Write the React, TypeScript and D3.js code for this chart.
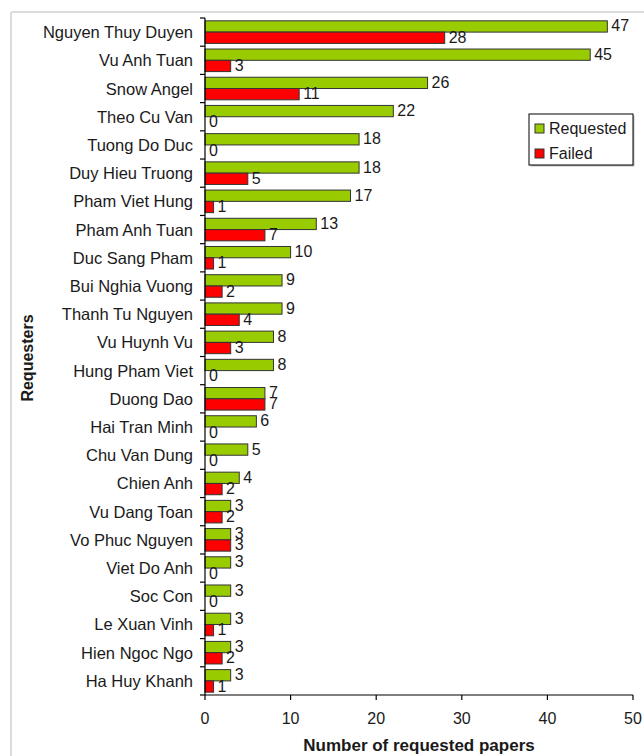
import React from "react";
import * as d3 from "d3";

const categories = [
  "Nguyen Thuy Duyen", "Vu Anh Tuan", "Snow Angel", "Theo Cu Van", "Tuong Do Duc",
  "Duy Hieu Truong", "Pham Viet Hung", "Pham Anh Tuan", "Duc Sang Pham", "Bui Nghia Vuong",
  "Thanh Tu Nguyen", "Vu Huynh Vu", "Hung Pham Viet", "Duong Dao", "Hai Tran Minh",
  "Chu Van Dung", "Chien Anh", "Vu Dang Toan", "Vo Phuc Nguyen", "Viet Do Anh",
  "Soc Con", "Le Xuan Vinh", "Hien Ngoc Ngo", "Ha Huy Khanh",
];
const requested = [47, 45, 26, 22, 18, 18, 17, 13, 10, 9, 9, 8, 8, 7, 6, 5, 4, 3, 3, 3, 3, 3, 3, 3];
const failed = [28, 3, 11, 0, 0, 5, 1, 7, 1, 2, 4, 3, 0, 7, 0, 0, 2, 2, 3, 0, 0, 1, 2, 1];
const xTicks = [0, 10, 20, 30, 40, 50];
const seriesNames = ["Requested", "Failed"];
const seriesColors = ["#99CC00", "#FF0000"];

const W = 644, H = 756;
const left = 205, right = 633, top = 18, bottom = 695;
const FONT = "'Liberation Sans', Arial, sans-serif";
const TXT = "#1a1a1a";

export default function App() {
  const x = d3.scaleLinear().domain([0, 50]).range([left, right]);
  const y = d3.scaleBand<string>().domain(categories).range([top, bottom]).paddingInner(0).paddingOuter(0);
  const bw = y.bandwidth();
  const inner = d3.scaleBand<string>().domain(seriesNames).range([0, bw]).paddingInner(0).paddingOuter(0.25);
  const series = [requested, failed];

  return (
    <svg width={W} height={H} style={{ position: "absolute", left: 0, top: 0 }} fontFamily={FONT}>
      <rect x={0} y={0} width={W} height={H} fill="#fff" />
      <line x1={11} y1={12} x2={W} y2={12} stroke="#dcdcdc" strokeWidth={2} />
      <line x1={11} y1={12} x2={11} y2={H} stroke="#dcdcdc" strokeWidth={2} />

      {categories.map((c, i) => (
        <g key={c}>
          {series.map((s, k) => {
            const v = s[i];
            const yy = (y(c) as number) + (inner(seriesNames[k]) as number);
            const h = inner.bandwidth();
            return (
              <g key={k}>
                {v > 0 && (
                  <rect x={x(0)} y={yy} width={x(v) - x(0)} height={h} fill={seriesColors[k]} stroke="#333" strokeWidth={1} />
                )}
                <text x={x(v) + 4} y={yy + h / 2 - 0.5} dominantBaseline="central" fontSize={16} fill={TXT}>{v}</text>
              </g>
            );
          })}
          <text x={193} y={(y(c) as number) + bw / 2} dominantBaseline="central" textAnchor="end" fontSize={16.5} fill={TXT}>{c}</text>
        </g>
      ))}

      {/* y axis */}
      <line x1={left} y1={top} x2={left} y2={bottom} stroke="#000" strokeWidth={1.2} />
      {d3.range(categories.length + 1).map((i) => {
        const yy = top + i * bw;
        return <line key={i} x1={left - 5} x2={left} y1={yy} y2={yy} stroke="#000" strokeWidth={1.2} />;
      })}

      {/* x axis */}
      <line x1={left} y1={bottom} x2={right} y2={bottom} stroke="#000" strokeWidth={1.2} />
      {xTicks.map((t) => (
        <g key={t}>
          <line x1={x(t)} x2={x(t)} y1={bottom} y2={bottom + 5} stroke="#000" strokeWidth={1.2} />
          <text x={x(t)} y={718} textAnchor="middle" dominantBaseline="central" fontSize={16} fill={TXT}>{t}</text>
        </g>
      ))}

      <text x={419} y={745} textAnchor="middle" dominantBaseline="central" fontSize={17} fontWeight="bold" fill={TXT}>Number of requested papers</text>
      <text transform={`translate(27,${358}) rotate(-90)`} textAnchor="middle" dominantBaseline="central" fontSize={16} fontWeight="bold" fill={TXT}>Requesters</text>

      {/* legend */}
      <rect x={530.5} y={115.5} width={104} height={51} fill="#bbb" />
      <rect x={529} y={114} width={104} height={51} fill="#fff" stroke="#000" strokeWidth={1} />
      {seriesNames.map((n, k) => (
        <g key={n}>
          <rect x={535} y={124 + k * 25} width={9} height={9} fill={seriesColors[k]} stroke="#333" strokeWidth={1} />
          <text x={549} y={128.5 + k * 25} dominantBaseline="central" fontSize={16} fill={TXT}>{n}</text>
        </g>
      ))}
    </svg>
  );
}
